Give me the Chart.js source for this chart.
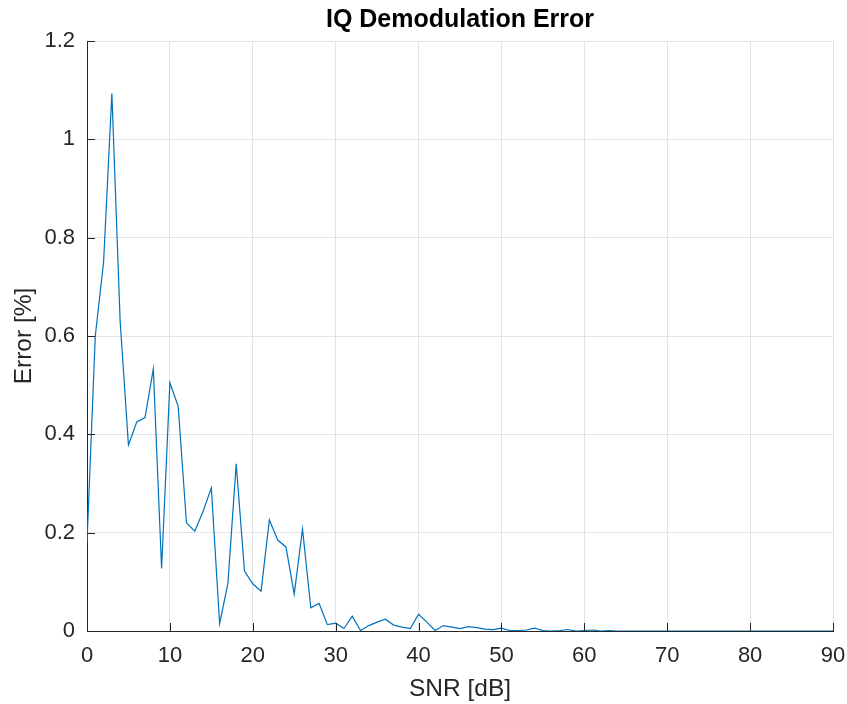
<!DOCTYPE html>
<html>
<head>
<meta charset="utf-8">
<script src="https://cdn.jsdelivr.net/npm/chart.js@4"></script>
<style>
  html, body { margin: 0; padding: 0; background: #ffffff; }
  #wrap { width: 847px; height: 704px; }
</style>
</head>
<body>
<div id="wrap"><canvas id="iq-chart" width="847" height="704"></canvas></div>
<script>
const snrDb = [
  0, 1, 2, 3, 4, 5, 6, 7, 8, 9, 10, 11, 12, 13, 14, 15, 16, 17, 18, 19,
  20, 21, 22, 23, 24, 25, 26, 27, 28, 29, 30, 31, 32, 33, 34, 35, 36, 37, 38, 39,
  40, 41, 42, 43, 44, 45, 46, 47, 48, 49, 50, 51, 52, 53, 54, 55, 56, 57, 58, 59,
  60, 61, 62, 63, 64, 65, 66, 67, 68, 69, 70, 71, 72, 73, 74, 75, 76, 77, 78, 79,
  80, 81, 82, 83, 84, 85, 86, 87, 88, 89, 90
];
const errorPct = [
  0.18, 0.60, 0.75, 1.093, 0.63, 0.378, 0.425, 0.434, 0.533, 0.127,
  0.505, 0.457, 0.22, 0.203, 0.243, 0.291, 0.015, 0.097, 0.340, 0.122,
  0.096, 0.081, 0.226, 0.185, 0.171, 0.075, 0.207, 0.047, 0.056, 0.013,
  0.016, 0.005, 0.030, 0.001, 0.011, 0.018, 0.024, 0.012, 0.008, 0.005,
  0.034, 0.018, 0.001, 0.011, 0.008, 0.005, 0.009, 0.007, 0.004, 0.003,
  0.006, 0.001, 0.001, 0.002, 0.006, 0.001, 0, 0.001, 0.003, 0,
  0.001, 0.002, 0, 0.001, 0, 0, 0, 0, 0, 0,
  0, 0, 0, 0, 0, 0, 0, 0, 0, 0,
  0, 0, 0, 0, 0, 0, 0, 0, 0, 0,
  0
];
const xTicks = [0, 10, 20, 30, 40, 50, 60, 70, 80, 90];
const yTicks = [0, 0.2, 0.4, 0.6, 0.8, 1, 1.2];

const axisColor = '#262626';
const fontFamily = '"Liberation Sans", Arial, Helvetica, sans-serif';

// matlab style ticks pointing into the plot
const innerTicks = {
  id: 'innerTicks',
  afterDraw(chart) {
    const ctx = chart.ctx;
    const area = chart.chartArea;
    const xs = chart.scales.x;
    const ys = chart.scales.y;
    const len = 8;
    ctx.save();
    ctx.strokeStyle = axisColor;
    ctx.lineWidth = 1;
    ctx.beginPath();
    xTicks.forEach(function(t) {
      const px = Math.round(xs.getPixelForValue(t)) + 0.5;
      ctx.moveTo(px, area.bottom);
      ctx.lineTo(px, area.bottom - len);
    });
    yTicks.forEach(function(t) {
      const py = Math.round(ys.getPixelForValue(t)) + 0.5;
      ctx.moveTo(area.left, py);
      ctx.lineTo(area.left + len, py);
    });
    ctx.stroke();
    ctx.restore();
  }
};

let points = [];
for (let i = 0; i < snrDb.length; i++) {
  points.push({x: snrDb[i], y: errorPct[i]});
}

const chart = new Chart(document.getElementById('iq-chart'), {
  type: 'line',
  data: {
    datasets: [{
      data: points,
      borderColor: '#0072BD',
      borderWidth: 1.2,
      pointRadius: 0,
      tension: 0,
      fill: false
    }]
  },
  options: {
    responsive: false,
    animation: false,
    layout: {
      padding: {left: 0, right: 14, top: 0, bottom: 0}
    },
    plugins: {
      legend: {display: false},
      tooltip: {enabled: false},
      title: {
        display: true,
        fullSize: false,
        text: 'IQ Demodulation Error',
        color: '#000000',
        font: {family: fontFamily, size: 25, weight: 'bold'},
        padding: {top: 5.4, bottom: 5.6}
      }
    },
    scales: {
      x: {
        type: 'linear',
        min: 0,
        max: 90,
        afterBuildTicks: function(scale) {
          scale.ticks = xTicks.map(function(v) { return {value: v}; });
        },
        afterFit: function(scale) {
          scale.height = 73;
          scale.paddingLeft = 0;
          scale.paddingRight = 0;
        },
        grid: {color: '#e3e3e3', drawTicks: false, lineWidth: 1},
        border: {color: axisColor, width: 1},
        ticks: {
          color: axisColor,
          padding: 12,
          maxRotation: 0,
          font: {family: fontFamily, size: 22}
        },
        title: {
          display: true,
          text: 'SNR [dB]',
          color: axisColor,
          font: {family: fontFamily, size: 24.5},
          padding: {top: 0, bottom: 0}
        }
      },
      y: {
        min: 0,
        max: 1.2,
        afterBuildTicks: function(scale) {
          scale.ticks = yTicks.map(function(v) { return {value: v}; });
        },
        afterFit: function(scale) { scale.width = 87; },
        grid: {color: '#e3e3e3', drawTicks: false, lineWidth: 1},
        border: {color: axisColor, width: 1},
        ticks: {
          color: axisColor,
          padding: 12,
          font: {family: fontFamily, size: 22},
          callback: function(v) { return String(Number(v.toFixed(1))); }
        },
        title: {
          display: true,
          text: 'Error [%]',
          color: axisColor,
          font: {family: fontFamily, size: 24.5},
          padding: {top: 10, bottom: 0}
        }
      }
    }
  },
  plugins: [innerTicks]
});
</script>
</body>
</html>
